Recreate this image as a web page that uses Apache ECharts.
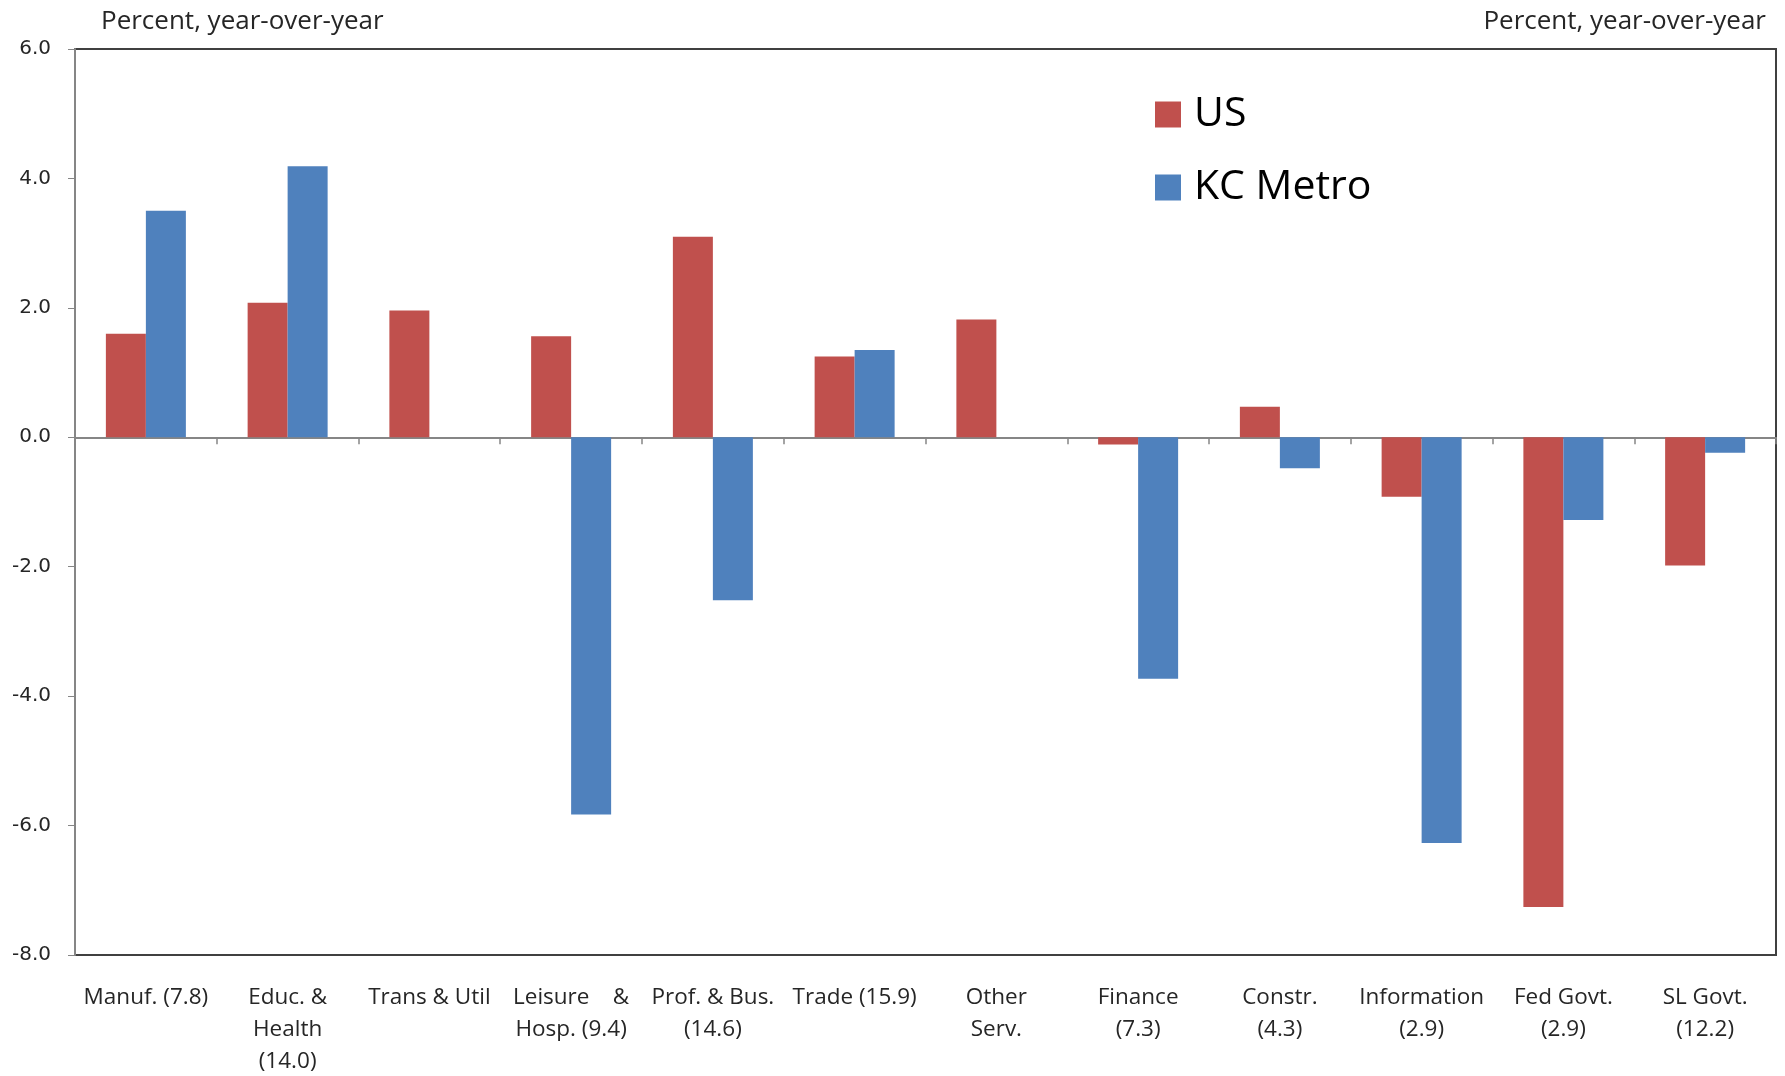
<!DOCTYPE html>
<html>
<head>
<meta charset="utf-8">
<script src="https://cdn.jsdelivr.net/npm/echarts@6/dist/echarts.min.js"></script>
<style>
  html, body { margin: 0; padding: 0; background: #fff; }
  #chart { width: 1785px; height: 1076px; }
</style>
</head>
<body>
<div id="chart"></div>
<script>
var categories = [
  "Manuf. (7.8)",
  "Educ. &\nHealth\n(14.0)",
  "Trans & Util",
  "Leisure    &\nHosp. (9.4)",
  "Prof. & Bus.\n(14.6)",
  "Trade (15.9)",
  "Other\nServ.",
  "Finance\n(7.3)",
  "Constr.\n(4.3)",
  "Information\n(2.9)",
  "Fed Govt.\n(2.9)",
  "SL Govt.\n(12.2)"
];
var usValues = [1.6, 2.08, 1.96, 1.56, 3.1, 1.25, 1.82, -0.11, 0.47, -0.92, -7.26, -1.98];
var kcValues = [3.5, 4.19, null, -5.83, -2.52, 1.35, null, -3.73, -0.48, -6.27, -1.28, -0.24];
var axisTitle = "Percent, year-over-year";

var textFont = "'Open Sans', Lato, sans-serif";
var chart = echarts.init(document.getElementById("chart"));

chart.setOption({
  animation: false,
  backgroundColor: "#fff",
  title: [
    {
      text: axisTitle,
      left: 96,
      top: 4,
      textStyle: { fontFamily: textFont, fontSize: 26, fontWeight: "normal", color: "#262626" }
    },
    {
      text: axisTitle,
      right: 14,
      top: 4,
      textStyle: { fontFamily: textFont, fontSize: 26, fontWeight: "normal", color: "#262626" }
    }
  ],
  legend: {
    orient: "vertical",
    left: 1150,
    top: 89,
    itemWidth: 26,
    itemHeight: 26,
    itemGap: 32,
    icon: "rect",
    textStyle: { fontFamily: textFont, fontSize: 41, color: "#000", padding: [0, 0, 0, 8] },
    data: ["US", "KC Metro"]
  },
  grid: {
    left: 75,
    right: 9,
    top: 49,
    bottom: 121,
    outerBoundsMode: "none",
    show: true,
    borderColor: "#404040",
    borderWidth: 2
  },
  xAxis: [
    {
      // bottom axis carries the category labels
      type: "category",
      data: categories,
      position: "bottom",
      axisLine: { onZero: false, show: false },
      axisTick: { show: false },
      axisLabel: {
        interval: 0,
        margin: 27,
        fontFamily: textFont,
        fontSize: 22.5,
        lineHeight: 32,
        color: "#262626",
        verticalAlign: "top"
      }
    },
    {
      // zero line with category ticks
      type: "category",
      data: categories,
      position: "top",
      axisLine: { onZero: true, lineStyle: { color: "#868686", width: 2 } },
      axisTick: { show: true, inside: true, length: 7, lineStyle: { color: "#868686", width: 1.5 } },
      axisLabel: { show: false }
    }
  ],
  yAxis: {
    type: "value",
    min: -8,
    max: 6,
    interval: 2,
    axisLine: { show: true, lineStyle: { color: "#868686", width: 2 } },
    axisTick: { show: true, length: 7, lineStyle: { color: "#868686" } },
    splitLine: { show: false },
    axisLabel: {
      margin: 24,
      fontFamily: "'DejaVu Sans', sans-serif",
      fontSize: 20,
      color: "#262626",
      formatter: function (v) { return v.toFixed(1); }
    }
  },
  series: [
    {
      name: "US",
      type: "bar",
      xAxisIndex: 0,
      data: usValues,
      barWidth: 40,
      barGap: "0%",
      itemStyle: { color: "#C0504D" }
    },
    {
      name: "KC Metro",
      type: "bar",
      xAxisIndex: 0,
      data: kcValues,
      barWidth: 40,
      barGap: "0%",
      itemStyle: { color: "#4F81BD" }
    }
  ]
});
window.onresize = function () { chart.resize(); };
</script>
</body>
</html>
